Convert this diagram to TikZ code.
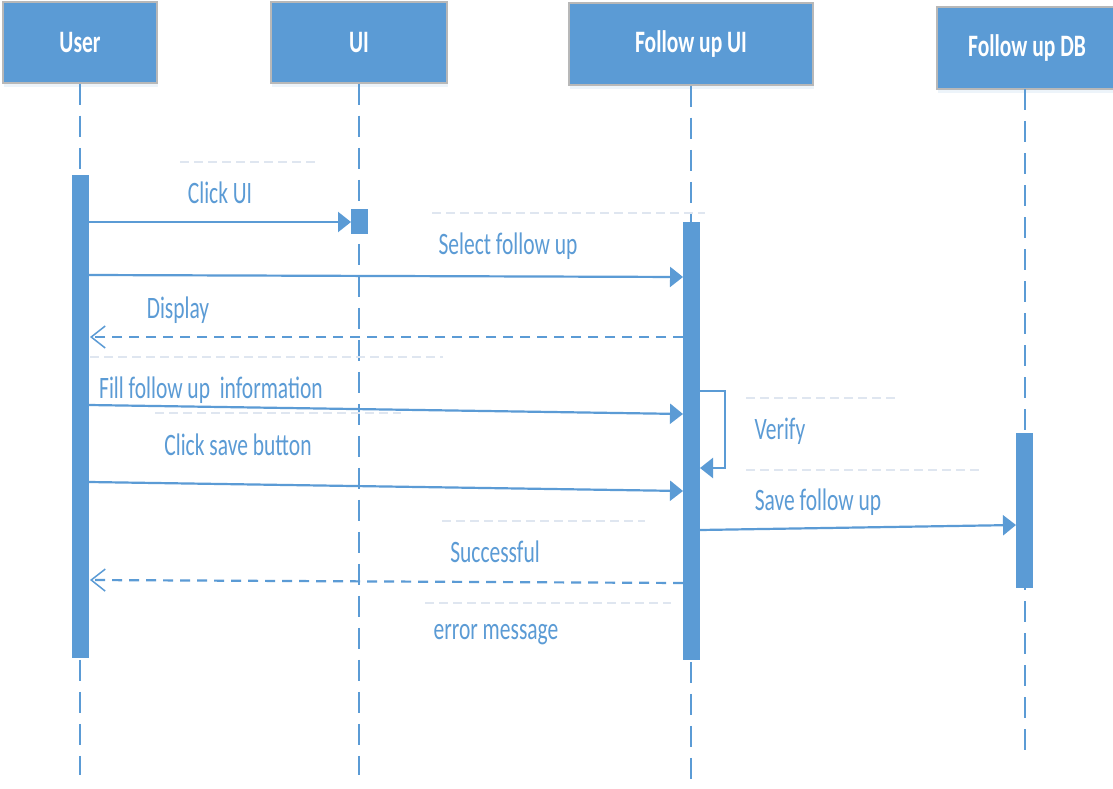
\documentclass[tikz,border=0pt]{standalone}
\usepackage{fontspec}
\setmainfont{Carlito}
\usetikzlibrary{arrows.meta,shadows}
\definecolor{myblue}{HTML}{5B9BD5}
\definecolor{faint}{HTML}{DFE6F0}
\definecolor{bordergray}{HTML}{B8B8B8}
\newcommand\tallt[1]{\scalebox{1}[1.45]{#1}}
\begin{document}
\begin{tikzpicture}[x=1pt,y=-1pt,
  head/.style={draw=bordergray, line width=1.5pt, fill=myblue, text=white,
    font=\fontsize{21.5}{24}\selectfont\bfseries, inner sep=0pt,
    drop shadow={opacity=0.18, shadow xshift=1pt, shadow yshift=-4pt, fill=myblue!60}},
  life/.style={myblue, line width=1.5pt, dash pattern=on 21pt off 11pt},
  actbar/.style={fill=myblue, draw=none, minimum width=17pt, inner sep=0pt},
  msg/.style={myblue, line width=2.2pt, -{Triangle[length=13pt,width=20pt]}},
  ret/.style={myblue, line width=2.2pt, dash pattern=on 10pt off 7pt,
    -{Straight Barb[length=14pt,width=22pt,line width=1.5pt]}},
  faintline/.style={faint, line width=1.5pt, dash pattern=on 9pt off 5pt},
  lbl/.style={text=myblue, font=\fontsize{21.5}{24}\selectfont, inner sep=0pt}]
\useasboundingbox (0,0) rectangle (1113,789);
\fill[white] (0,0) rectangle (1113,789);

% heads
\node[head, minimum width=154pt, minimum height=81pt] (user) at (80,42.5) {\tallt{User}};
\node[head, minimum width=176pt, minimum height=81pt] (ui) at (359,42.5) {\tallt{UI}};
\node[head, minimum width=244pt, minimum height=82pt] (fui) at (691,44) {\tallt{Follow up UI}};
\node[head, minimum width=180pt, minimum height=82pt] (db) at (1027,48) {\tallt{Follow up DB}};

% lifeline ends
\coordinate (userEnd) at (80,775);
\coordinate (uiEnd) at (359,775);
\coordinate (fuiEnd) at (691,785);
\coordinate (dbEnd) at (1025,760);
\coordinate (dbTop) at (1025,89);

\draw[life] (user.south) -- (userEnd);
\draw[life] (ui.south) -- (uiEnd);
\draw[life] (fui.south) -- (fuiEnd);
\draw[life] (dbTop) -- (dbEnd);

% faint guide lines
\coordinate (f1a) at (180,162); \coordinate (f1b) at (315,162);
\coordinate (f2a) at (432,213); \coordinate (f2b) at (705,213);
\coordinate (f3a) at (90,357);  \coordinate (f3b) at (443,357);
\coordinate (f4a) at (155,413); \coordinate (f4b) at (401,413);
\coordinate (f5a) at (746,398); \coordinate (f5b) at (897,398);
\coordinate (f6a) at (746,470); \coordinate (f6b) at (982,470);
\coordinate (f7a) at (442,521); \coordinate (f7b) at (645,521);
\coordinate (f8a) at (425,603); \coordinate (f8b) at (671,603);
\foreach \i in {1,...,8} {\draw[faintline] (f\i a) -- (f\i b);}

% activation bars
\node[actbar, minimum height=483pt] (uact) at (80.5,416.5) {};
\node[actbar, minimum height=25pt] (uiact) at (359.5,221.5) {};
\node[actbar, minimum height=438pt] (fact) at (691.5,441) {};
\node[actbar, minimum height=155pt] (dbact) at (1024.5,510.5) {};

% message endpoints
\coordinate (m1s) at (89,222);  \coordinate (m1e) at (351,222);
\coordinate (m2s) at (89,275);  \coordinate (m2e) at (683,277);
\coordinate (m3s) at (683,337); \coordinate (m3e) at (90,337);
\coordinate (m4s) at (89,405);  \coordinate (m4e) at (683,414);
\coordinate (m5s) at (89,482);  \coordinate (m5e) at (683,491);
\coordinate (v1) at (700,391);  \coordinate (v2) at (725,391);
\coordinate (v3) at (725,468);  \coordinate (v4) at (700,468);
\coordinate (m7s) at (700,530); \coordinate (m7e) at (1016,525);
\coordinate (m8s) at (683,583); \coordinate (m8e) at (90,580);

\draw[msg] (m1s) -- (m1e);
\draw[msg] (m2s) -- (m2e);
\draw[ret] (m3s) -- (m3e);
\draw[msg] (m4s) -- (m4e);
\draw[msg] (m5s) -- (m5e);
\draw[msg] (v1) -- (v2) -- (v3) -- (v4);
\draw[msg] (m7s) -- (m7e);
\draw[ret] (m8s) -- (m8e);

% labels
\node[lbl] (l1) at (220,193) {\tallt{Click UI}};
\node[lbl] (l2) at (508,246) {\tallt{Select follow up}};
\node[lbl] (l3) at (178,310) {\tallt{Display}};
\node[lbl] (l4) at (211,390) {\tallt{Fill follow up\ \ information}};
\node[lbl] (l5) at (238,445) {\tallt{Click save button}};
\node[lbl] (l6) at (780,431) {\tallt{Verify}};
\node[lbl] (l7) at (818,502) {\tallt{Save follow up}};
\node[lbl] (l8) at (495,552) {\tallt{Successful}};
\node[lbl] (l9) at (496,635) {\tallt{error message}};
\end{tikzpicture}
\end{document}
